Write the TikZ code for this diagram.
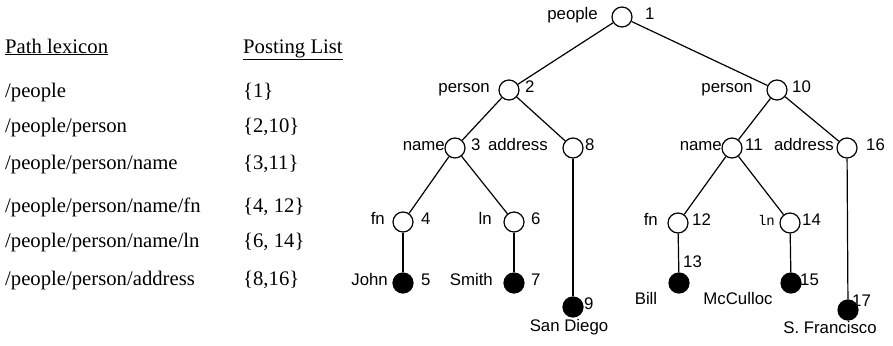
\documentclass[tikz,border=0pt]{standalone}
\usepackage{fontspec}
\setmainfont{Liberation Serif}
\setsansfont{Liberation Sans}
\setmonofont{Liberation Mono}
\begin{document}
\begin{tikzpicture}[x=1pt,y=-1pt,
  tbl/.style={anchor=base west,inner sep=0pt,font=\fontsize{20.7}{24}\selectfont\rmfamily},
  onode/.style={circle,draw,line width=1.2pt,fill=white,minimum size=20pt,inner sep=0pt},
  fnode/.style={circle,draw,line width=1.2pt,fill=black,minimum size=20pt,inner sep=0pt},
  lab/.style={inner sep=0pt,font=\fontsize{16.8}{19}\selectfont\sffamily},
  ll/.style={lab,anchor=mid east},
  rl/.style={lab,anchor=mid west},
  edge/.style={line width=1.2pt}]
\useasboundingbox (0,0) rectangle (893,345);
% table
\node[tbl] (h1) at (5,53) {\underline{Path lexicon}};
\node[tbl] (h2) at (243,53) {\underline{Posting List}};
\node[tbl] (p1) at (5,97) {/people};
\node[tbl] (q1) at (243,97) {\{1\}};
\node[tbl] (p2) at (5,132) {/people/person};
\node[tbl] (q2) at (243,132) {\{2,10\}};
\node[tbl] (p3) at (5,169) {/people/person/name};
\node[tbl] (q3) at (243,169) {\{3,11\}};
\node[tbl] (p4) at (5,212) {/people/person/name/fn};
\node[tbl] (q4) at (243,212) {\{4, 12\}};
\node[tbl] (p5) at (5,247) {/people/person/name/ln};
\node[tbl] (q5) at (243,247) {\{6, 14\}};
\node[tbl] (p6) at (5,285) {/people/person/address};
\node[tbl] (q6) at (243,285) {\{8,16\}};
% tree nodes
\node[onode] (n1) at (622,17) {};
\node[onode] (n2) at (509,90) {};
\node[onode] (n10) at (777,90) {};
\node[onode] (n3) at (455,148) {};
\node[onode] (n8) at (573,148) {};
\node[onode] (n11) at (732,148) {};
\node[onode] (n16) at (847,148) {};
\node[onode] (n4) at (403,222) {};
\node[onode] (n6) at (514,222) {};
\node[onode] (n12) at (678,223) {};
\node[onode] (n14) at (790,223) {};
\node[fnode] (n5) at (403,283) {};
\node[fnode] (n7) at (514,283) {};
\node[fnode] (n9) at (573,307) {};
\node[fnode] (n13) at (679,283) {};
\node[fnode] (n15) at (791,283) {};
\node[fnode] (n17) at (848,310) {};
% edges
\draw[edge] (n1) -- (n2);
\draw[edge] (n1) -- (n10);
\draw[edge] (n2) -- (n3);
\draw[edge] (n2) -- (n8);
\draw[edge] (n3) -- (n4);
\draw[edge] (n3) -- (n6);
\draw[edge] (n4) -- (n5);
\draw[edge] (n6) -- (n7);
\draw[edge] (n8) -- (n9);
\draw[edge] (n10) -- (n11);
\draw[edge] (n10) -- (n16);
\draw[edge] (n11) -- (n12);
\draw[edge] (n11) -- (n14);
\draw[edge] (n12) -- (n13);
\draw[edge] (n14) -- (n15);
\draw[edge] (n16) -- (n17);
% labels
\node[ll] (l1) at (598,17) {people};
\node[rl] (r1) at (645,17) {1};
\node[ll] (l2) at (490,90) {person};
\node[rl] (r2) at (525,90) {2};
\node[ll] (l10) at (753,90) {person};
\node[rl] (r10) at (792,90) {10};
\node[ll] (l3) at (445,148) {name};
\node[rl] (r3) at (471,148) {3};
\node[ll] (l8) at (548,148) {address};
\node[rl] (r8) at (585,148) {8};
\node[ll] (l11) at (722,148) {name};
\node[rl] (r11) at (745,148) {11};
\node[ll] (l16) at (834,148) {address};
\node[rl] (r16) at (866,148) {16};
\node[ll] (l4) at (385,222) {fn};
\node[rl] (r4) at (421,222) {4};
\node[ll] (l6) at (492,222) {ln};
\node[rl] (r6) at (531,222) {6};
\node[ll] (l12) at (658,223) {fn};
\node[rl] (r12) at (692,223) {12};
\node[ll,font=\fontsize{14}{16}\selectfont\ttfamily] (l14) at (775,223) {ln};
\node[rl] (r14) at (802,223) {14};
\node[ll] (l5) at (388,283) {John};
\node[rl] (r5) at (421,283) {5};
\node[ll] (l7) at (493,283) {Smith};
\node[rl] (r7) at (531,283) {7};
\node[rl] (r9) at (584,307) {9};
\node[lab] (l9) at (569,327) {San Diego};
\node[rl] (r13) at (683,265) {13};
\node[lab] (l13) at (646,298) {Bill};
\node[rl] (r15) at (800,283) {15};
\node[lab] (l15) at (738,298) {McCulloc};
\node[rl] (r17) at (852,304) {17};
\node[lab] (l17) at (830,327) {S. Francisco};
\end{tikzpicture}
\end{document}
